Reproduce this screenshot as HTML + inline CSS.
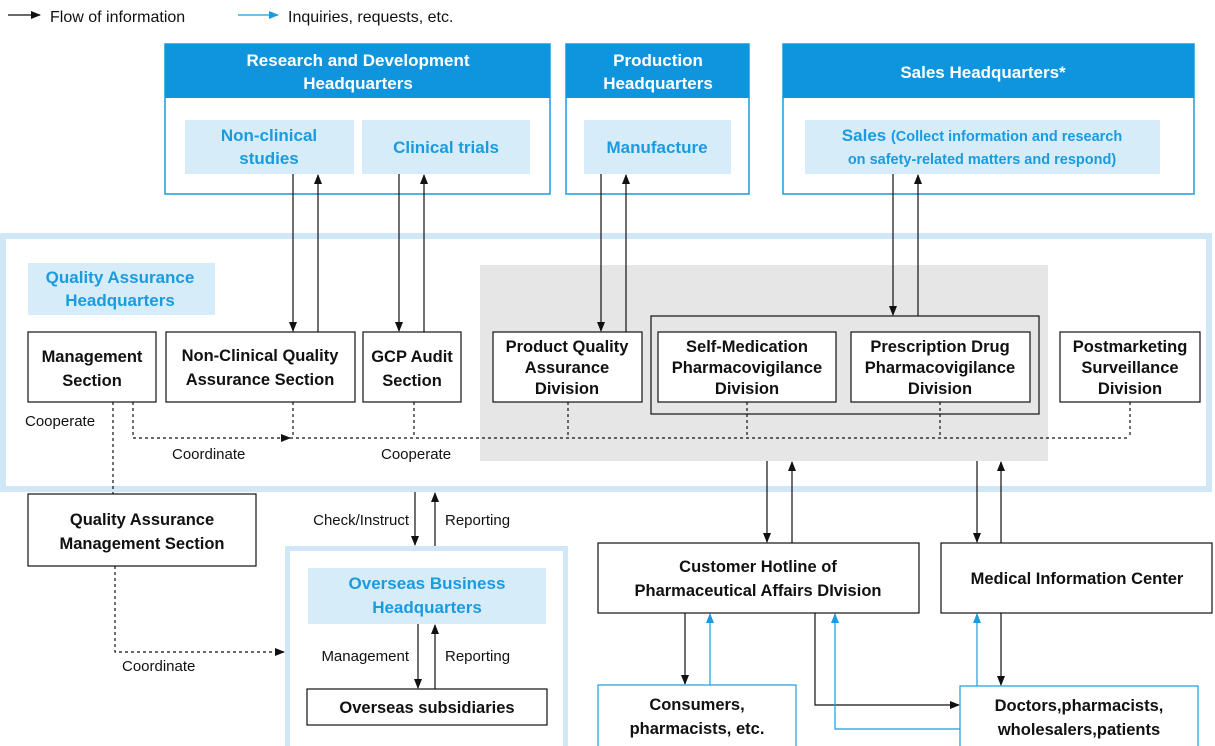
<!DOCTYPE html>
<html><head><meta charset="utf-8"><style>
html,body{margin:0;padding:0;background:#fff;}
svg{display:block;font-family:"Liberation Sans","Noto Sans CJK JP",sans-serif;}
.b{font-weight:bold;font-size:16.5px;fill:#111;text-anchor:middle;}
.w{font-weight:bold;font-size:17px;fill:#fff;text-anchor:middle;}
.bl{font-weight:bold;font-size:17px;fill:#1a9be0;text-anchor:middle;}
.n{font-size:15px;fill:#111;}
</style></head><body>
<svg width="1215" height="746" viewBox="0 0 1215 746" xmlns="http://www.w3.org/2000/svg">
<defs>
<marker id="a" markerWidth="10" markerHeight="8" refX="9" refY="4" orient="auto" markerUnits="userSpaceOnUse"><path d="M0,0L10,4L0,8z" fill="#111"/></marker>
<marker id="c" markerWidth="10" markerHeight="8" refX="9" refY="4" orient="auto" markerUnits="userSpaceOnUse"><path d="M0,0L10,4L0,8z" fill="#1a9be0"/></marker>
</defs>
<!-- legend -->
<line x1="8" y1="15" x2="40" y2="15" stroke="#111" stroke-width="1.2" marker-end="url(#a)"/>
<text x="50" y="22" class="n" style="font-size:16px">Flow of information</text>
<line x1="238" y1="15" x2="278" y2="15" stroke="#1a9be0" stroke-width="1.2" marker-end="url(#c)"/>
<text x="288" y="22" class="n" style="font-size:16px">Inquiries, requests, etc.</text>

<!-- R&D -->
<rect x="165" y="44" width="385" height="150" fill="#fff" stroke="#1a9be0" stroke-width="1.5"/>
<rect x="165" y="44" width="385" height="54" fill="#0f95dd"/>
<text x="358" y="66" class="w">Research and Development</text>
<text x="358" y="89" class="w">Headquarters</text>
<rect x="185" y="120" width="169" height="54" fill="#d6ecf9"/>
<text x="269" y="141" class="bl">Non-clinical</text>
<text x="269" y="164" class="bl">studies</text>
<rect x="362" y="120" width="168" height="54" fill="#d6ecf9"/>
<text x="446" y="153" class="bl">Clinical trials</text>
<!-- Production -->
<rect x="566" y="44" width="183" height="150" fill="#fff" stroke="#1a9be0" stroke-width="1.5"/>
<rect x="566" y="44" width="183" height="54" fill="#0f95dd"/>
<text x="658" y="66" class="w">Production</text>
<text x="658" y="89" class="w">Headquarters</text>
<rect x="584" y="120" width="147" height="54" fill="#d6ecf9"/>
<text x="657" y="153" class="bl">Manufacture</text>
<!-- Sales -->
<rect x="783" y="44" width="411" height="150" fill="#fff" stroke="#1a9be0" stroke-width="1.5"/>
<rect x="783" y="44" width="411" height="54" fill="#0f95dd"/>
<text x="983" y="78" class="w">Sales Headquarters*</text>
<rect x="805" y="120" width="355" height="54" fill="#d6ecf9"/>
<text x="982" y="141" class="bl"><tspan>Sales </tspan><tspan style="font-size:14.5px">(Collect information and research</tspan></text>
<text x="982" y="164" class="bl" style="font-size:14.5px">on safety-related matters and respond)</text>

<!-- QA outer -->
<rect x="3" y="236" width="1206" height="253" fill="#fff" stroke="#cfe7f7" stroke-width="6"/>
<rect x="480" y="265" width="568" height="196" fill="#e6e6e6"/>
<rect x="28" y="263" width="187" height="52" fill="#d6ecf9"/>
<text x="120" y="283" class="bl">Quality Assurance</text>
<text x="120" y="306" class="bl">Headquarters</text>

<g fill="#fff" stroke="#111" stroke-width="1.2">
<rect x="28" y="332" width="128" height="70"/>
<rect x="166" y="332" width="189" height="70"/>
<rect x="363" y="332" width="98" height="70"/>
<rect x="493" y="332" width="149" height="70"/>
<rect x="651" y="316" width="388" height="98" fill="none"/>
<rect x="658" y="332" width="178" height="70"/>
<rect x="851" y="332" width="179" height="70"/>
<rect x="1060" y="332" width="140" height="70"/>
<rect x="28" y="494" width="228" height="72"/>
</g>
<text x="92" y="362" class="b">Management</text>
<text x="92" y="386" class="b">Section</text>
<text x="260" y="361" class="b">Non-Clinical Quality</text>
<text x="260" y="385" class="b">Assurance Section</text>
<text x="412" y="362" class="b">GCP Audit</text>
<text x="412" y="386" class="b">Section</text>
<text x="567" y="352" class="b">Product Quality</text>
<text x="567" y="373" class="b">Assurance</text>
<text x="567" y="394" class="b">Division</text>
<text x="747" y="352" class="b">Self-Medication</text>
<text x="747" y="373" class="b">Pharmacovigilance</text>
<text x="747" y="394" class="b">Division</text>
<text x="940" y="352" class="b">Prescription Drug</text>
<text x="940" y="373" class="b">Pharmacovigilance</text>
<text x="940" y="394" class="b">Division</text>
<text x="1130" y="352" class="b">Postmarketing</text>
<text x="1130" y="373" class="b">Surveillance</text>
<text x="1130" y="394" class="b">Division</text>
<text x="142" y="525" class="b">Quality Assurance</text>
<text x="142" y="549" class="b">Management Section</text>

<!-- vertical arrows top -->
<g stroke="#111" stroke-width="1.2" fill="none">
<line x1="293" y1="174" x2="293" y2="331" marker-end="url(#a)"/>
<line x1="318" y1="332" x2="318" y2="175" marker-end="url(#a)"/>
<line x1="399" y1="174" x2="399" y2="331" marker-end="url(#a)"/>
<line x1="424" y1="332" x2="424" y2="175" marker-end="url(#a)"/>
<line x1="601" y1="174" x2="601" y2="331" marker-end="url(#a)"/>
<line x1="626" y1="332" x2="626" y2="175" marker-end="url(#a)"/>
<line x1="893" y1="174" x2="893" y2="315" marker-end="url(#a)"/>
<line x1="918" y1="316" x2="918" y2="175" marker-end="url(#a)"/>
<!-- dashed -->
<g stroke-dasharray="3,3">
<polyline points="133,402 133,438 290,438" marker-end="url(#a)"/>
<line x1="290" y1="438" x2="1130" y2="438"/>
<line x1="293" y1="402" x2="293" y2="438"/>
<line x1="414" y1="402" x2="414" y2="438"/>
<line x1="568" y1="402" x2="568" y2="438"/>
<line x1="747" y1="402" x2="747" y2="438"/>
<line x1="940" y1="402" x2="940" y2="438"/>
<line x1="1130" y1="402" x2="1130" y2="438"/>
<line x1="113" y1="402" x2="113" y2="494"/>
<polyline points="115,566 115,652 284,652" marker-end="url(#a)"/>
</g>
<!-- check/instruct -->
<line x1="415" y1="492" x2="415" y2="545" marker-end="url(#a)"/>
<line x1="435" y1="546" x2="435" y2="493" marker-end="url(#a)"/>
<line x1="418" y1="624" x2="418" y2="688" marker-end="url(#a)"/>
<line x1="435" y1="689" x2="435" y2="625" marker-end="url(#a)"/>
<!-- hotline/medical -->
<line x1="767" y1="461" x2="767" y2="542" marker-end="url(#a)"/>
<line x1="792" y1="543" x2="792" y2="462" marker-end="url(#a)"/>
<line x1="977" y1="461" x2="977" y2="542" marker-end="url(#a)"/>
<line x1="1001" y1="543" x2="1001" y2="462" marker-end="url(#a)"/>
<line x1="685" y1="613" x2="685" y2="684" marker-end="url(#a)"/>
<line x1="1001" y1="613" x2="1001" y2="685" marker-end="url(#a)"/>
<polyline points="815,613 815,705 959,705" marker-end="url(#a)"/>
</g>
<g stroke="#1a9be0" stroke-width="1.2" fill="none">
<line x1="710" y1="685" x2="710" y2="614" marker-end="url(#c)"/>
<line x1="977" y1="686" x2="977" y2="614" marker-end="url(#c)"/>
<polyline points="960,729 835,729 835,614" marker-end="url(#c)"/>
</g>
<text x="25" y="426" class="n">Cooperate</text>
<text x="172" y="459" class="n">Coordinate</text>
<text x="381" y="459" class="n">Cooperate</text>
<text x="409" y="525" class="n" text-anchor="end">Check/Instruct</text>
<text x="445" y="525" class="n">Reporting</text>
<text x="122" y="671" class="n">Coordinate</text>

<!-- overseas -->
<rect x="287.5" y="548.5" width="278" height="200" fill="#fff" stroke="#cfe7f7" stroke-width="5"/>
<rect x="308" y="568" width="238" height="56" fill="#d6ecf9"/>
<text x="427" y="589" class="bl">Overseas Business</text>
<text x="427" y="613" class="bl">Headquarters</text>
<line x1="418" y1="624" x2="418" y2="688" stroke="#111" stroke-width="1.2" marker-end="url(#a)"/>
<line x1="435" y1="689" x2="435" y2="625" stroke="#111" stroke-width="1.2" marker-end="url(#a)"/>
<text x="409" y="661" class="n" text-anchor="end">Management</text>
<text x="445" y="661" class="n">Reporting</text>
<rect x="307" y="689" width="240" height="36" fill="#fff" stroke="#111" stroke-width="1.2"/>
<text x="427" y="713" class="b">Overseas subsidiaries</text>

<!-- hotline -->
<rect x="598" y="543" width="321" height="70" fill="#fff" stroke="#111" stroke-width="1.2"/>
<text x="758" y="572" class="b">Customer Hotline of</text>
<text x="758" y="596" class="b">Pharmaceutical Affairs DIvision</text>
<rect x="941" y="543" width="271" height="70" fill="#fff" stroke="#111" stroke-width="1.2"/>
<text x="1077" y="584" class="b">Medical Information Center</text>
<rect x="598" y="685" width="198" height="62" fill="#fff" stroke="#1a9be0" stroke-width="1.2"/>
<text x="697" y="710" class="b">Consumers,</text>
<text x="697" y="734" class="b">pharmacists, etc.</text>
<rect x="960" y="686" width="238" height="62" fill="#fff" stroke="#1a9be0" stroke-width="1.2"/>
<text x="1079" y="711" class="b">Doctors,pharmacists,</text>
<text x="1079" y="735" class="b">wholesalers,patients</text>
</svg>
</body></html>
